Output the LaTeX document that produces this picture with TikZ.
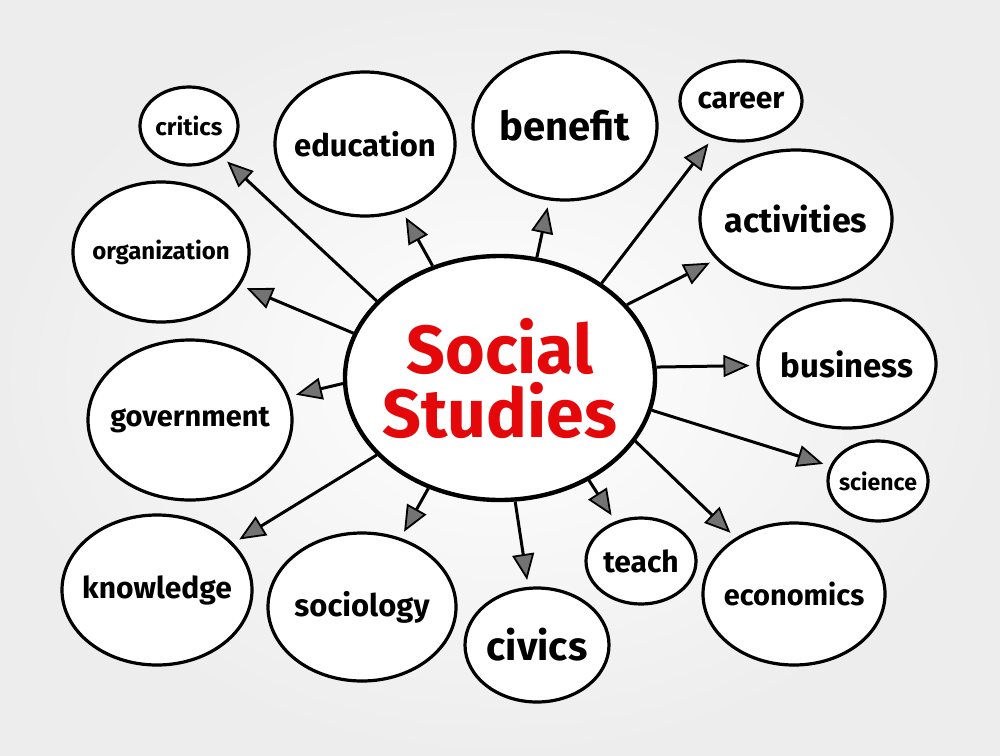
\documentclass[tikz,border=0pt]{standalone}
\usepackage{fontspec}
\setmainfont{Fira Sans}
\usetikzlibrary{shapes.geometric, arrows.meta}
\definecolor{topicred}{RGB}{228,8,10}

\tikzset{
  bubble/.style={draw, ellipse, fill=white, line width=3.2pt, inner sep=0pt},
  oval/.style 2 args={minimum width=#1, minimum height=#2},
  word/.style={font=\fontsize{#1}{#1}\selectfont\bfseries, inner sep=0pt},
  topic/.style={font=\fontsize{68}{64}\selectfont\bfseries, text=topicred, align=center, inner sep=0pt},
  spoke/.style={line width=3pt, -{Triangle[length=26pt,width=22pt,line width=1.8pt,fill=black!55]}, shorten >=7pt},
}

\begin{document}
\begin{tikzpicture}[x=1pt,y=-1pt]
  \useasboundingbox (0,0) rectangle (1000,755);
  \shade[inner color=white, outer color=black!7] (0,0) rectangle (1000,755);

  % centre topic
  \node[bubble, line width=4.4pt, oval={310}{244}, label={[topic]center:{Social\\Studies}}] (main) at (500,378) {};

  % subtopics, clockwise from top left
  \node[bubble, oval={98}{78},   label={[word=24]center:critics}]      (critics)      at (189,126) {};
  \node[bubble, oval={180}{144}, label={[word=31]center:education}]    (education)    at (365,144) {};
  \node[bubble, oval={184}{148}, label={[word=40]center:benefit}]      (benefit)      at (565,126) {};
  \node[bubble, oval={122}{80},  label={[word=30]center:career}]       (career)       at (741,101) {};
  \node[bubble, oval={192}{138}, label={[word=34]center:activities}]   (activities)   at (796,219) {};
  \node[bubble, oval={178}{128}, label={[word=33]center:business}]     (business)     at (847,364) {};
  \node[bubble, oval={100}{80},  label={[word=23]center:science}]      (science)      at (878,481) {};
  \node[bubble, oval={182}{142}, label={[word=29]center:economics}]    (economics)    at (794,594) {};
  \node[bubble, oval={110}{86},  label={[word=30]center:teach}]        (teach)        at (641,561) {};
  \node[bubble, oval={144}{114}, label={[word=40]center:civics}]       (civics)       at (537,645) {};
  \node[bubble, oval={188}{148}, label={[word=31]center:sociology}]    (sociology)    at (362,607) {};
  \node[bubble, oval={190}{150}, label={[word=30]center:knowledge}]    (knowledge)    at (157,590) {};
  \node[bubble, oval={204}{160}, label={[word=29]center:government}]   (government)   at (190,420) {};
  \node[bubble, oval={176}{140}, label={[word=24]center:organization}] (organization) at (161,252) {};

  % spokes
  \draw[spoke] (main.148) -- (critics);
  \draw[spoke] (main.121) -- (education);
  \draw[spoke] (main.73)  -- (benefit);
  \draw[spoke] (main.43)  -- (career);
  \draw[spoke] (main.30)  -- (activities);
  \draw[spoke] (main.4)   -- (business);
  \draw[spoke] (main.-12) -- (science);
  \draw[spoke] (main.-25) -- (economics);
  \draw[spoke] (main.-49) -- (teach);
  \draw[spoke] (main.-83) -- (civics);
  \draw[spoke] (main.237) -- (sociology);
  \draw[spoke] (main.212) -- (knowledge);
  \draw[spoke] (main.182) -- (government);
  \draw[spoke] (main.163) -- (organization);
\end{tikzpicture}
\end{document}
